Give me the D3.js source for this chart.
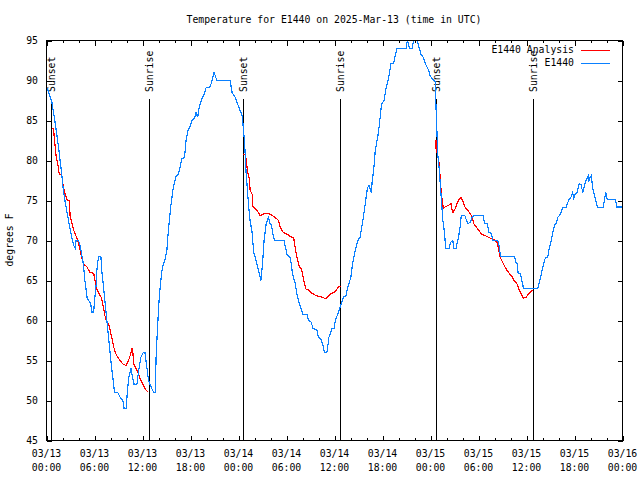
<!DOCTYPE html>
<html><head><meta charset="utf-8">
<script src="https://cdn.jsdelivr.net/npm/d3@7"></script>
<style>
body{margin:0;background:#fff}
svg{display:block}
text{font-family:"DejaVu Sans Mono","Liberation Mono",monospace;font-size:9.8px;fill:#000}
</style>
</head><body>
<svg id="chart" width="640" height="480"></svg>
<script>
// ---- data ----
const startTime = "2025-03-13T00:00:00Z";
const titleText = "Temperature for E1440 on 2025-Mar-13 (time in UTC)";
const yLabelText = "degrees F";
const seriesNames = ["E1440 Analysis", "E1440"];
const seriesColors = ["#ff0000", "#0a80ff"];

// observations: hours since 03/13 00:00 UTC, temperature (F)
const obsHours = [0.1,0.67,1.1,1.5,1.9,2.1,2.3,2.75,3.05,3.4,3.6,3.7,4.0,4.2,4.6,4.8,5.1,5.5,5.7,5.9,6.0,6.2,6.3,6.5,6.8,6.9,7.2,7.5,7.7,7.9,8.1,8.3,8.5,8.9,9.2,9.55,9.7,9.95,10.1,10.3,10.55,10.75,10.95,11.3,11.5,11.8,12.1,12.3,12.55,12.75,13.2,13.4,13.6,13.7,13.9,14.1,14.4,14.6,14.8,15.05,15.25,15.55,15.8,16.0,16.2,16.5,16.7,16.9,17.25,17.45,17.7,17.95,18.2,18.5,18.7,18.9,19.1,19.4,19.7,19.95,20.45,20.7,20.95,21.3,22.95,23.2,23.6,23.8,24.1,24.3,24.5,24.6,24.75,24.95,25.25,25.45,25.7,25.9,26.2,26.5,26.8,27.0,27.2,27.45,27.75,27.9,28.1,28.3,28.5,29.7,29.9,30.1,30.4,30.6,30.75,31.1,31.3,31.6,31.8,32.05,32.55,32.75,33.1,33.3,33.8,34.0,34.3,34.5,34.75,35.05,35.2,35.3,35.7,35.95,36.1,36.4,36.6,36.85,37.1,37.45,37.6,37.85,38.05,38.25,38.45,38.7,39.0,39.2,39.55,39.85,40.1,40.3,40.6,40.7,40.9,41.1,41.4,41.6,41.8,41.9,42.2,42.4,42.75,43.05,43.4,43.6,43.8,44.95,45.1,45.4,45.7,45.9,46.3,46.5,46.8,47.1,47.35,47.55,47.75,47.95,48.2,48.6,48.7,48.8,48.9,49.1,49.25,49.4,49.55,49.75,49.9,50.3,50.55,50.8,50.9,51.2,51.3,51.5,51.7,51.85,52.3,52.5,52.7,53.0,53.2,53.4,54.6,54.75,55.1,55.3,55.6,55.8,56.3,56.5,56.6,56.75,58.5,58.65,58.85,58.95,59.25,59.4,59.55,59.6,61.4,61.6,61.8,62.05,62.25,62.4,62.65,62.8,63.05,63.3,63.5,63.7,63.9,64.1,64.3,64.55,64.96,65.1,65.3,65.55,65.75,65.9,66.1,66.3,66.5,66.6,66.8,67.05,67.25,67.45,67.7,67.8,67.95,68.1,68.25,68.45,68.7,68.9,69.6,69.75,69.9,70.1,71.1,71.3,71.6,72.0];
const obsTemp  = [89,87.3,84.6,81.7,78.3,76.3,75,72.5,70.9,69.4,69,70,70,69.4,67.1,65,62.7,62.2,61,61,62.5,64.4,66.3,68,68,66.3,63.5,60.4,58.4,56.5,54.4,52.8,51,51,50.4,50,49,49,51,53,54,53,52,52,53.6,55.4,56,56,54.1,52.5,51.4,51,51,55.4,59.5,63,66,67.1,67.5,68.8,71.5,74.4,76.3,77.3,78,78.3,79.2,80.2,80.4,82.5,83.8,84.3,85,85.3,86,85.4,86.7,87.7,88.3,89.1,89.2,90,91,90,90,88.5,87.9,87.3,86.5,86,85.4,84,82.5,78.5,74.5,72.5,71,68.5,67.5,66.3,65,67,70,72,73,72.1,72,70.8,70,70,69,68.1,68,67.1,65.8,64.6,63.3,62.1,61.5,60.8,60.8,60,59.8,59,58.8,57.9,57.7,57.1,56,56,57.1,57.9,59,59,60,60.8,61.3,62.1,62.9,63.1,63.9,64.8,65.4,67.1,68.1,69.2,70.2,70.4,72.5,74.6,76.5,76.9,76,77.3,78.8,81.3,82.9,84.4,86.3,87.1,87.5,88.8,90.2,92.1,92.2,93.1,94,94,95,94,94,95,95,94.4,93.3,92.9,92.1,91.7,91.3,90.6,90.2,89.8,86.3,83.8,80.8,78.8,76.7,74.6,72.5,71,69,69,69.8,70,69,69,69.6,70.4,71.7,73.1,73.1,72.5,72.1,72.3,72.9,73.1,73.1,72.1,72.1,71,70.9,70,70,69.8,69.2,68,68,67.3,67.1,65.9,65.8,65,64.5,64,64,64.8,65.6,66.7,67.5,67.9,67.9,68.8,69.8,71,71.9,72.1,72.9,73.1,73.5,74.1,74.1,74.6,75.1,75.4,76,75.3,75.8,76,76.7,77.1,77,76,76.9,77.5,78.1,77.5,77.9,78.1,76.7,75.8,74.8,74.1,74.1,75.2,76,75.1,75.1,74.2,74.2,74.2];

// analysis (nighttime segments; null = gap)
const anaHours = [0.68,0.875,1.0,1.2,1.4,1.6,1.9,2.1,2.4,2.6,2.85,2.95,3.2,3.4,3.6,3.9,4.2,4.4,4.6,5.05,5.45,5.9,6.1,6.3,6.6,6.85,7.1,7.3,7.55,7.75,7.95,8.2,8.4,8.6,8.8,9.2,9.6,9.95,10.25,10.45,10.7,10.8,10.9,11.2,11.5,11.8,12.1,12.45,12.75,
  12.8,
  24.6,24.85,24.95,25.1,25.35,25.45,25.7,25.8,26.3,26.7,27.1,27.55,27.95,28.4,28.8,29.0,29.2,29.6,30.05,30.5,30.9,31.1,31.3,31.6,31.85,32.05,32.2,32.45,32.75,33.2,33.7,34.2,34.55,34.85,35.2,35.45,35.9,36.2,36.5,36.8,
  36.9,
  48.68,48.7,49.1,49.2,49.35,49.55,49.6,49.85,50.25,50.6,50.7,50.8,51.1,51.3,51.6,51.8,52.05,52.3,52.7,53.0,53.2,53.4,53.7,54.0,54.4,54.85,55.25,55.7,56.1,56.3,56.5,56.7,56.9,57.2,57.55,57.9,58.2,58.45,58.8,59.1,59.35,59.6,59.95,60.25,60.55,60.8];
const anaTemp  = [84,84,82.5,80.6,79.6,78.3,78.3,76.7,75.6,75,75,73.1,72.1,71.3,70.8,70,68.8,67.9,67.1,66.7,66,65.9,64.8,63.9,63.3,62.9,61.7,60.6,59.8,59.6,58.8,57.7,56.7,56,55.6,55,54.5,54.4,55,55.6,56.5,55.9,54.6,54,53.3,52.5,51.9,51.3,51,
  null,
  80.8,80.8,80.2,78.8,77.7,76.3,75.8,74.3,73.8,73.1,73.3,73.4,73.3,73,72.7,72.5,71.7,71,70.8,70.5,70.3,69,67.9,66.7,66.5,65.6,64.8,63.9,63.8,63.4,63.1,63,62.9,62.7,63,63.3,63.5,63.8,64.2,64.3,
  null,
  82.5,81.5,79.6,78,75.8,74.5,74,74.2,74.4,74.6,73.8,73.5,74,74.6,75.2,75.4,74.9,74.2,73.7,73.3,72.9,72.1,71.7,71.3,70.8,70.6,70.4,70.2,70,69.8,69,67.9,67.5,66.9,66.3,65.8,65.5,65,64.6,63.8,63.3,62.8,62.9,63.3,63.6,63.8];

// sunrise / sunset markers (hours since start)
const sunHours  = [0.58, 12.75, 24.6, 36.72, 48.65, 60.75];
const sunLabels = ["Sunset","Sunrise","Sunset","Sunrise","Sunset","Sunrise"];

const yTicks = [45,50,55,60,65,70,75,80,85,90,95];
const xMajorStepHours = 6;
const xMinorStepHours = 2;
const xDayLabels  = ["03/13","03/13","03/13","03/13","03/14","03/14","03/14","03/14","03/15","03/15","03/15","03/15","03/16"];
const xTimeLabels = ["00:00","06:00","12:00","18:00","00:00","06:00","12:00","18:00","00:00","06:00","12:00","18:00","00:00"];

// ---- chart ----
const svg = d3.select("#chart");
const L = 46.5, R = 622.5, T = 40.5, B = 440.5;
const t0 = Date.parse(startTime);
const toDate = h => new Date(t0 + h * 3600e3);

const x = d3.scaleUtc().domain([toDate(0), toDate(72)]).range([L, R]);
const y = d3.scaleLinear().domain([45, 95]).range([B, T]);

svg.append("rect").attr("width",640).attr("height",480).attr("fill","#fff");

svg.append("clipPath").attr("id","clip").append("rect")
  .attr("x",L).attr("y",T-1).attr("width",R-L).attr("height",B-T+1);

const majorX = d3.range(0, 72 + 1e-9, xMajorStepHours).map(toDate);
const minorX = d3.range(0, 72 + 1e-9, xMinorStepHours).filter(h => h % xMajorStepHours !== 0).map(toDate);

function styleAxis(g){
  g.select(".domain").remove();
  g.selectAll("line").attr("stroke","#000").attr("shape-rendering","crispEdges");
  g.selectAll("text").remove();
}
svg.append("g").attr("transform",`translate(0,${B})`)
  .call(d3.axisBottom(x).tickValues(majorX).tickSize(-5).tickFormat("")).call(styleAxis);
svg.append("g").attr("transform",`translate(0,${B})`)
  .call(d3.axisBottom(x).tickValues(minorX).tickSize(-2.5).tickFormat("")).call(styleAxis);
svg.append("g").attr("transform",`translate(0,${T})`)
  .call(d3.axisTop(x).tickValues(majorX).tickSize(-5).tickFormat("")).call(styleAxis);
svg.append("g").attr("transform",`translate(0,${T})`)
  .call(d3.axisTop(x).tickValues(minorX).tickSize(-2.5).tickFormat("")).call(styleAxis);
svg.append("g").attr("transform",`translate(${L},0)`)
  .call(d3.axisLeft(y).tickValues(yTicks).tickSize(-5).tickFormat("")).call(styleAxis);
svg.append("g").attr("transform",`translate(${R},0)`)
  .call(d3.axisRight(y).tickValues(yTicks).tickSize(-5).tickFormat("")).call(styleAxis);

svg.append("g").selectAll("text").data(yTicks).join("text")
  .attr("x", 38).attr("y", d => y(d)).attr("dy","0.35em")
  .attr("text-anchor","end").text(d => d);

const xl = svg.append("g").selectAll("g").data(majorX).join("g")
  .attr("transform", d => `translate(${x(d)},0)`);
xl.append("text").attr("y",456.5).attr("text-anchor","middle").text((d,i) => xDayLabels[i]);
xl.append("text").attr("y",470.5).attr("text-anchor","middle").text((d,i) => xTimeLabels[i]);

svg.append("text").attr("x",334).attr("y",23).attr("text-anchor","middle").text(titleText);
svg.append("text").attr("transform","translate(13,240) rotate(-90)")
  .attr("text-anchor","middle").text(yLabelText);

const sun = svg.append("g").selectAll("g").data(sunHours).join("g");
sun.append("line")
  .attr("x1", d => Math.round(x(toDate(d))) + 0.5).attr("x2", d => Math.round(x(toDate(d))) + 0.5)
  .attr("y1", 99).attr("y2", B).attr("stroke","#000").attr("stroke-width",1)
  .attr("shape-rendering","crispEdges");
sun.append("text")
  .attr("transform", d => `translate(${Math.round(x(toDate(d))) + 0.5},92) rotate(-90)`)
  .attr("dy","0.35em").attr("text-anchor","start").text((d,i) => sunLabels[i]);

const line = d3.line()
  .defined(d => d.v != null)
  .x(d => x(toDate(d.h))).y(d => y(d.v));
const anaData = anaHours.map((h,i) => ({h, v: anaTemp[i]}));
const obsData = obsHours.map((h,i) => ({h, v: obsTemp[i]}));
const plot = svg.append("g").attr("clip-path","url(#clip)");
plot.append("path").datum(anaData).attr("d", line)
  .attr("fill","none").attr("stroke",seriesColors[0]).attr("stroke-width",1.2)
  .attr("shape-rendering","crispEdges");
plot.append("path").datum(obsData).attr("d", line)
  .attr("fill","none").attr("stroke",seriesColors[1]).attr("stroke-width",1.2)
  .attr("shape-rendering","crispEdges");

svg.append("rect").attr("x",L).attr("y",T).attr("width",R-L).attr("height",B-T)
  .attr("fill","none").attr("stroke","#000").attr("shape-rendering","crispEdges");

const leg = svg.append("g").selectAll("g").data(seriesNames).join("g")
  .attr("transform",(d,i) => `translate(0,${50 + i*12.5})`);
leg.append("text").attr("x",574).attr("dy","0.35em").attr("text-anchor","end").text(d => d);
leg.append("line").attr("x1",581).attr("x2",610).attr("y1",0.5).attr("y2",0.5)
  .attr("stroke",(d,i) => seriesColors[i]).attr("stroke-width",1)
  .attr("shape-rendering","crispEdges");
</script>
</body></html>
